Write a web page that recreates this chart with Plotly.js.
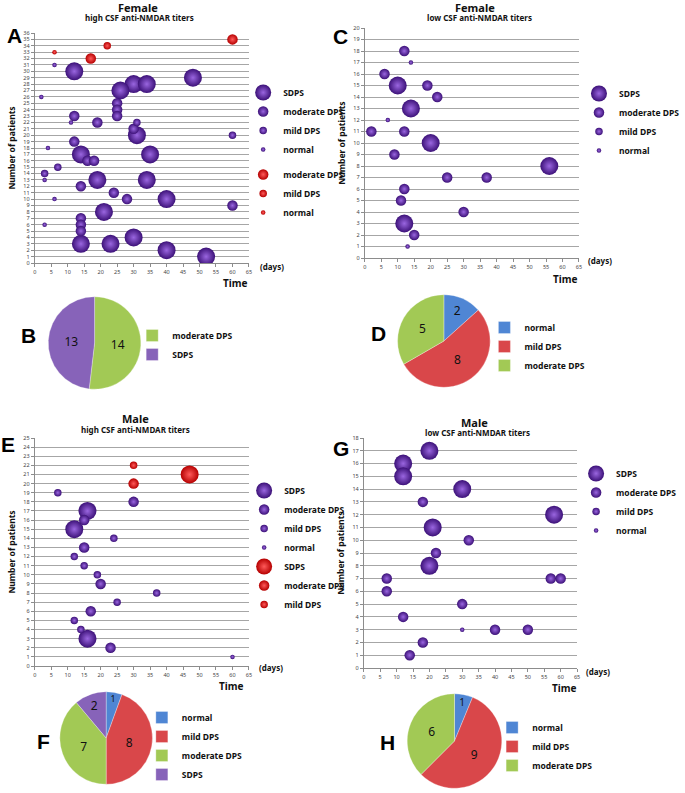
<!DOCTYPE html>
<html>
<head>
<meta charset="utf-8">
<script src="https://cdn.plot.ly/plotly-3.0.1.min.js"></script>
<style>
  html, body { margin: 0; padding: 0; background: #fff; }
  #plotDiv { width: 685px; height: 793px; }
</style>
</head>
<body>
<div id="plotDiv"></div>
<script>
// grades used by the bubble charts
const grades = ['SDPS', 'moderate DPS', 'mild DPS', 'normal'];

// A: female, high titers  (days, patient no., grade, colour group)
const aDays     = [60, 22, 6, 17, 6, 12, 48, 30, 34, 26, 2, 25, 25, 25, 12, 11, 19, 31, 30, 31, 60, 12, 4, 14, 35, 16, 18, 7, 3, 3, 19, 34, 14, 24, 6, 28, 40, 60, 21, 14, 3, 14, 14, 30, 14, 23, 40, 52];
const aPatients = [35, 34, 33, 32, 31, 30, 29, 28, 28, 27, 26, 25, 24, 23, 23, 22, 22, 22, 21, 20, 20, 19, 18, 17, 17, 16, 16, 15, 14, 13, 13, 13, 12, 11, 10, 10, 10, 9, 8, 7, 6, 6, 5, 4, 3, 3, 2, 1];
const aGrade    = ['moderate DPS', 'mild DPS', 'normal', 'moderate DPS', 'normal', 'SDPS', 'SDPS', 'SDPS', 'SDPS', 'SDPS', 'normal', 'moderate DPS', 'moderate DPS', 'moderate DPS', 'moderate DPS', 'normal', 'moderate DPS', 'mild DPS', 'moderate DPS', 'SDPS', 'mild DPS', 'moderate DPS', 'normal', 'SDPS', 'SDPS', 'moderate DPS', 'moderate DPS', 'mild DPS', 'mild DPS', 'normal', 'SDPS', 'SDPS', 'moderate DPS', 'moderate DPS', 'normal', 'moderate DPS', 'SDPS', 'moderate DPS', 'SDPS', 'moderate DPS', 'normal', 'moderate DPS', 'moderate DPS', 'SDPS', 'SDPS', 'SDPS', 'SDPS', 'SDPS'];
const aGroup    = ['red', 'red', 'red', 'red', 'purple', 'purple', 'purple', 'purple', 'purple', 'purple', 'purple', 'purple', 'purple', 'purple', 'purple', 'purple', 'purple', 'purple', 'purple', 'purple', 'purple', 'purple', 'purple', 'purple', 'purple', 'purple', 'purple', 'purple', 'purple', 'purple', 'purple', 'purple', 'purple', 'purple', 'purple', 'purple', 'purple', 'purple', 'purple', 'purple', 'purple', 'purple', 'purple', 'purple', 'purple', 'purple', 'purple', 'purple'];

// C: female, low titers
const cDays     = [12, 14, 6, 10, 19, 22, 14, 7, 2, 12, 20, 9, 56, 25, 37, 12, 11, 30, 12, 15, 13];
const cPatients = [18, 17, 16, 15, 15, 14, 13, 12, 11, 11, 10, 9, 8, 7, 7, 6, 5, 4, 3, 2, 1];
const cGrade    = ['moderate DPS', 'normal', 'moderate DPS', 'SDPS', 'moderate DPS', 'moderate DPS', 'SDPS', 'normal', 'moderate DPS', 'moderate DPS', 'SDPS', 'moderate DPS', 'SDPS', 'moderate DPS', 'moderate DPS', 'moderate DPS', 'moderate DPS', 'moderate DPS', 'SDPS', 'moderate DPS', 'normal'];

// E: male, high titers
const eDays     = [30, 47, 30, 7, 30, 16, 15, 12, 24, 15, 12, 15, 19, 20, 37, 25, 17, 12, 14, 16, 23, 60];
const ePatients = [22, 21, 20, 19, 18, 17, 16, 15, 14, 13, 12, 11, 10, 9, 8, 7, 6, 5, 4, 3, 2, 1];
const eGrade    = ['mild DPS', 'SDPS', 'moderate DPS', 'mild DPS', 'moderate DPS', 'SDPS', 'moderate DPS', 'SDPS', 'mild DPS', 'moderate DPS', 'mild DPS', 'mild DPS', 'mild DPS', 'moderate DPS', 'mild DPS', 'mild DPS', 'moderate DPS', 'mild DPS', 'mild DPS', 'SDPS', 'moderate DPS', 'normal'];
const eGroup    = ['red', 'red', 'red', 'purple', 'purple', 'purple', 'purple', 'purple', 'purple', 'purple', 'purple', 'purple', 'purple', 'purple', 'purple', 'purple', 'purple', 'purple', 'purple', 'purple', 'purple', 'purple'];

// G: male, low titers
const gDays     = [20, 12, 12, 30, 18, 58, 21, 32, 22, 20, 7, 57, 60, 7, 30, 12, 30, 40, 50, 18, 14];
const gPatients = [17, 16, 15, 14, 13, 12, 11, 10, 9, 8, 7, 7, 7, 6, 5, 4, 3, 3, 3, 2, 1];
const gGrade    = ['SDPS', 'SDPS', 'SDPS', 'SDPS', 'moderate DPS', 'SDPS', 'SDPS', 'moderate DPS', 'moderate DPS', 'SDPS', 'moderate DPS', 'moderate DPS', 'moderate DPS', 'moderate DPS', 'moderate DPS', 'moderate DPS', 'normal', 'moderate DPS', 'moderate DPS', 'moderate DPS', 'moderate DPS'];

// pies
const bLabels = ['moderate DPS', 'SDPS'];
const bValues = [14, 13];
const dLabels = ['normal', 'mild DPS', 'moderate DPS'];
const dValues = [2, 8, 5];
const fLabels = ['normal', 'mild DPS', 'moderate DPS', 'SDPS'];
const fValues = [1, 8, 7, 2];
const hLabels = ['normal', 'mild DPS', 'moderate DPS'];
const hValues = [1, 9, 6];

// ---- styling ----
const W = 685, H = 793;
const px = v => v / W;
const py = v => 1 - v / H;
const FONT = 'Noto Sans, DejaVu Sans, sans-serif';

const sizeOf = {'SDPS': 18, 'moderate DPS': 10.5, 'mild DPS': 7.5, 'normal': 4.5};
// edge colour first, lighter centre via the radial gradient
const bubbleColor = {
    purple: {edge: '#3c1178', centre: '#9a66e0'},
    red: {edge: '#b50000', centre: '#ff5a5a'}
};
const pieColor = {
    'normal': '#4f86d4',
    'mild DPS': '#d9474a',
    'moderate DPS': '#a2c955',
    'SDPS': '#8763b9'
};

function bubbleTraces(days, patients, gradeArr, groupArr, groupName, legendGrades, axis, legendId) {
    const out = [];
    legendGrades.forEach(g => {
        const xs = [], ys = [];
        days.forEach((d, i) => {
            const grp = groupArr ? groupArr[i] : 'purple';
            if (gradeArr[i] === g && grp === groupName) {
                xs.push(d);
                ys.push(patients[i]);
            }
        });
        out.push({
            type: 'scatter',
            mode: 'markers',
            x: xs.length ? xs : [null],
            y: ys.length ? ys : [null],
            name: g,
            xaxis: 'x' + axis,
            yaxis: 'y' + axis,
            legend: legendId,
            legendgroup: groupName + axis,
            hoverinfo: 'x+y+name',
            marker: {
                size: sizeOf[g],
                color: bubbleColor[groupName].edge,
                gradient: {type: 'radial', color: bubbleColor[groupName].centre},
                line: {width: 0}
            }
        });
    });
    return out;
}

function pieTrace(labels, values, cx, cy, r, legendId) {
    return {
        type: 'pie',
        labels: labels,
        values: values,
        sort: false,
        direction: 'clockwise',
        rotation: 0,
        textinfo: 'value',
        textposition: 'inside',
        insidetextorientation: 'horizontal',
        textfont: {family: FONT, size: 12, color: '#111'},
        marker: {colors: labels.map(l => pieColor[l]), line: {color: 'rgba(255,255,255,0.5)', width: 0.6}},
        domain: {x: [px(cx - r), px(cx + r)], y: [py(cy + r), py(cy - r)]},
        legend: legendId,
        legendgroup: legendId,
        showlegend: true,
        hoverinfo: 'label+value'
    };
}

const data = [].concat(
    bubbleTraces(aDays, aPatients, aGrade, aGroup, 'purple', grades, '', 'legend'),
    bubbleTraces(aDays, aPatients, aGrade, aGroup, 'red', ['moderate DPS', 'mild DPS', 'normal'], '', 'legend'),
    bubbleTraces(cDays, cPatients, cGrade, null, 'purple', grades, '2', 'legend3'),
    bubbleTraces(eDays, ePatients, eGrade, eGroup, 'purple', grades, '3', 'legend5'),
    bubbleTraces(eDays, ePatients, eGrade, eGroup, 'red', ['SDPS', 'moderate DPS', 'mild DPS'], '3', 'legend5'),
    bubbleTraces(gDays, gPatients, gGrade, null, 'purple', grades, '4', 'legend7'),
    [
        pieTrace(bLabels, bValues, 98, 343, 48, 'legend2'),
        pieTrace(dLabels, dValues, 460, 341, 48, 'legend4'),
        pieTrace(fLabels, fValues, 110, 738, 48, 'legend6'),
        pieTrace(hLabels, hValues, 471, 741, 49, 'legend8')
    ]
);

function xAx(x0, x1) {
    return {
        domain: [px(x0), px(x1)], range: [0, 65], dtick: 5, tick0: 0,
        showgrid: false, zeroline: false, showline: true, linecolor: '#8c8c8c', linewidth: 1,
        ticks: 'outside', ticklen: 3, tickcolor: '#8c8c8c',
        tickfont: {family: FONT, size: 5.5, color: '#444'}, fixedrange: true
    };
}
function yAx(y0, y1, top, anchor) {
    return {
        domain: [py(y1), py(y0)], range: [0, top], dtick: 1, tick0: 0,
        showgrid: true, gridcolor: '#a6a6a6', gridwidth: 1, zeroline: false,
        showline: true, linecolor: '#8c8c8c', linewidth: 1,
        ticks: 'outside', ticklen: 3, tickcolor: '#8c8c8c',
        tickfont: {family: FONT, size: 5.5, color: '#444'},
        title: {text: 'Number of patients', standoff: 6, font: {family: FONT, size: 8.5, weight: 'bold', color: '#111'}},
        anchor: anchor, fixedrange: true
    };
}

function legendAt(symX, firstY, gap) {
    return {
        x: px(symX - 20), y: py(firstY - 14), xanchor: 'left', yanchor: 'top',
        bgcolor: 'rgba(0,0,0,0)', borderwidth: 0, traceorder: 'grouped', tracegroupgap: gap || 0,
        font: {family: FONT, size: 8.5, weight: 'bold', color: '#111'},
        itemclick: false, itemdoubleclick: false
    };
}

function note(text, x, y, size, weight, anchor) {
    return {
        text: text, x: px(x), y: py(y), xref: 'paper', yref: 'paper',
        xanchor: anchor || 'center', yanchor: 'middle', showarrow: false,
        font: {family: FONT, size: size, weight: weight || 'bold', color: '#111'}
    };
}
function letter(text, x, y) {
    return {
        text: text, x: px(x), y: py(y), xref: 'paper', yref: 'paper',
        xanchor: 'center', yanchor: 'middle', showarrow: false,
        font: {family: 'Liberation Sans, Arial, sans-serif', size: 21, weight: 'bold', color: '#000'}
    };
}

const layout = {
    width: W, height: H,
    margin: {l: 0, r: 0, t: 0, b: 0},
    paper_bgcolor: '#fff', plot_bgcolor: 'rgba(0,0,0,0)',
    font: {family: FONT},
    xaxis: xAx(36, 258), yaxis: yAx(33, 263, 36, 'x'),
    xaxis2: Object.assign(xAx(378, 600), {anchor: 'y2'}), yaxis2: yAx(28, 258, 20, 'x2'),
    xaxis3: Object.assign(xAx(36, 258), {anchor: 'y3'}), yaxis3: yAx(438, 666, 25, 'x3'),
    xaxis4: Object.assign(xAx(377, 598), {anchor: 'y4'}), yaxis4: yAx(438, 668, 18, 'x4'),
    legend: legendAt(272, 92, 6),
    legend2: legendAt(157, 335),
    legend3: legendAt(620, 93),
    legend4: legendAt(522, 327),
    legend5: legendAt(273, 490, 0),
    legend6: legendAt(167, 717),
    legend7: legendAt(617, 473),
    legend8: legendAt(530, 727),
    annotations: [
        note('Female', 143, 7, 11), note('high CSF anti-NMDAR titers', 145, 18, 8),
        note('Female', 492, 7, 11), note('low CSF anti-NMDAR titers', 497, 17, 8),
        note('Male', 140, 418, 11), note('high CSF anti-NMDAR titers', 140, 429, 8),
        note('Male', 492, 422, 11), note('low CSF anti-NMDAR titers', 495, 432, 8),
        note('(days)', 267, 266, 8, 'bold', 'left'), note('Time', 244, 283, 10),
        note('(days)', 607, 261, 8, 'bold', 'left'), note('Time', 586, 279, 10),
        note('(days)', 266, 667, 8, 'bold', 'left'), note('Time', 240, 686, 10),
        note('(days)', 605, 671, 8, 'bold', 'left'), note('Time', 585, 688, 10),
        letter('A', 15, 36), letter('B', 30, 336), letter('C', 353, 37), letter('D', 392, 333),
        letter('E', 8, 445), letter('F', 45, 741), letter('G', 353, 448), letter('H', 402, 742)
    ]
};

Plotly.newPlot('plotDiv', data, layout, {displayModeBar: false, staticPlot: true}).catch(error => {
    console.error('Error in plot:', error);
});
</script>
</body>
</html>
